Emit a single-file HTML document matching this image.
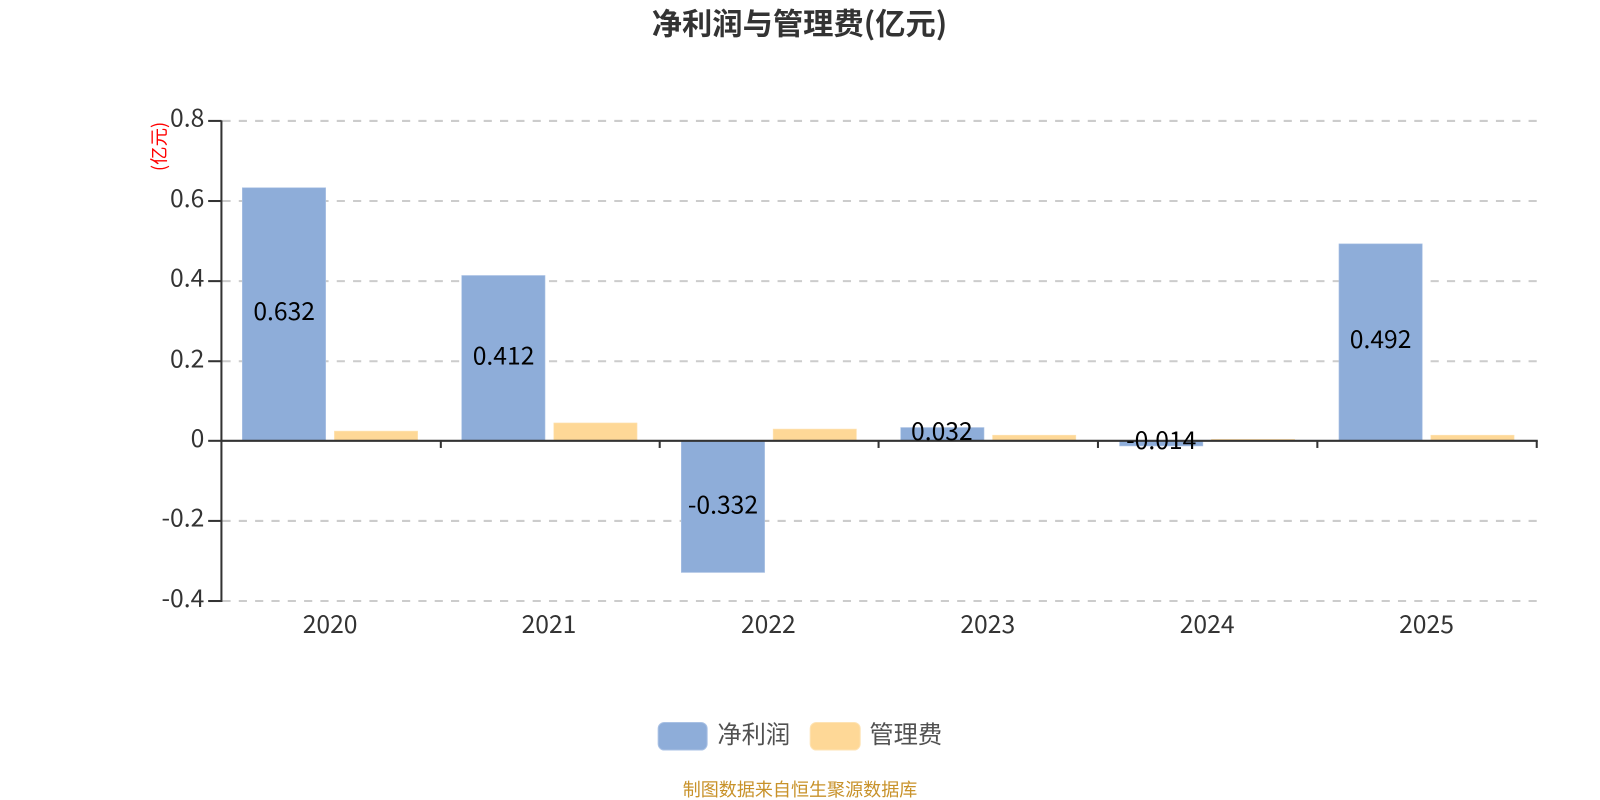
<!DOCTYPE html>
<html>
<head>
<meta charset="utf-8">
<style>
html,body{margin:0;padding:0;background:#fff;width:1600px;height:800px;overflow:hidden}
svg{display:block}
text{font-family:"Noto Sans CJK SC","Liberation Sans",sans-serif}
</style>
</head>
<body>
<svg width="1600" height="800" viewBox="0 0 1568 784" xmlns="http://www.w3.org/2000/svg">
<rect width="1568" height="784" fill="#fff"/>
<text x="783.5" y="34" font-size="29.7" font-weight="700" fill="#333" text-anchor="middle">净利润与管理费(亿元)</text>

<g stroke="#ccc" stroke-width="2" stroke-dasharray="8 8">
<line x1="218" y1="118.5" x2="1506" y2="118.5"/>
<line x1="218" y1="197" x2="1506" y2="197"/>
<line x1="218" y1="275.5" x2="1506" y2="275.5"/>
<line x1="218" y1="354" x2="1506" y2="354"/>
<line x1="218" y1="510.5" x2="1506" y2="510.5"/>
<line x1="218" y1="589" x2="1506" y2="589"/>
</g>

<g fill="#8eadd9" stroke="#a9c1e4" stroke-width="0.6">
<rect x="237.5" y="184" width="81.6" height="248"/>
<rect x="452.5" y="270" width="81.6" height="162"/>
<rect x="667.7" y="432" width="81.6" height="129"/>
<rect x="882.7" y="419" width="81.6" height="13"/>
<rect x="1097.2" y="432" width="81.6" height="5"/>
<rect x="1312.2" y="239" width="81.6" height="193"/>
</g>
<g fill="#fed897" stroke="#fee3b4" stroke-width="0.6">
<rect x="327.7" y="422.5" width="81.6" height="9.5"/>
<rect x="542.7" y="414.5" width="81.6" height="17.5"/>
<rect x="757.7" y="420.5" width="81.6" height="11.5"/>
<rect x="972.7" y="426.5" width="81.6" height="5.5"/>
<rect x="1187.2" y="430.5" width="81.6" height="1.5"/>
<rect x="1402.2" y="426.5" width="81.6" height="5.5"/>
</g>

<g stroke="#333" stroke-width="2" fill="none">
<line x1="217" y1="118" x2="217" y2="590"/>
<line x1="204" y1="118.5" x2="217" y2="118.5"/>
<line x1="204" y1="197" x2="217" y2="197"/>
<line x1="204" y1="275.5" x2="217" y2="275.5"/>
<line x1="204" y1="354" x2="217" y2="354"/>
<line x1="204" y1="432" x2="217" y2="432"/>
<line x1="204" y1="510.5" x2="217" y2="510.5"/>
<line x1="204" y1="589" x2="217" y2="589"/>
<line x1="217" y1="432" x2="1507" y2="432"/>
<line x1="432" y1="432" x2="432" y2="439"/>
<line x1="646.5" y1="432" x2="646.5" y2="439"/>
<line x1="861" y1="432" x2="861" y2="439"/>
<line x1="1076" y1="432" x2="1076" y2="439"/>
<line x1="1291" y1="432" x2="1291" y2="439"/>
<line x1="1506" y1="432" x2="1506" y2="439"/>
</g>

<g font-size="24.2" fill="#333" text-anchor="end">
<text x="200.2" y="124">0.8</text>
<text x="200.2" y="203">0.6</text>
<text x="200.2" y="281">0.4</text>
<text x="200.2" y="360">0.2</text>
<text x="200.2" y="438">0</text>
<text x="200.2" y="516">-0.2</text>
<text x="200.2" y="595">-0.4</text>
</g>

<g font-size="24.2" fill="#333" text-anchor="middle">
<text x="323.5" y="620.5">2020</text>
<text x="538" y="620.5">2021</text>
<text x="753" y="620.5">2022</text>
<text x="968" y="620.5">2023</text>
<text x="1183" y="620.5">2024</text>
<text x="1398" y="620.5">2025</text>
</g>

<g font-size="24.2" fill="#000" text-anchor="middle">
<text x="278.5" y="313.6">0.632</text>
<text x="493.5" y="357">0.412</text>
<text x="708.5" y="503">-0.332</text>
<text x="923" y="431">0.032</text>
<text x="1138" y="440">-0.014</text>
<text x="1353" y="341">0.492</text>
</g>

<text transform="translate(162,143.5) rotate(-90)" font-size="18.1" fill="#f00" text-anchor="middle">(亿元)</text>

<rect x="645" y="708" width="48" height="27" rx="6" fill="#8eadd9" stroke="#a9c1e4" stroke-width="1"/>
<text x="703" y="728" font-size="23.8" fill="#333" opacity="0.85">净利润</text>
<rect x="794" y="708" width="49" height="27" rx="6" fill="#fed897" stroke="#fee3b4" stroke-width="1"/>
<text x="852" y="728" font-size="23.8" fill="#333" opacity="0.85">管理费</text>

<text x="784" y="780" font-size="17.7" fill="#c8922a" text-anchor="middle">制图数据来自恒生聚源数据库</text>
</svg>
</body>
</html>
